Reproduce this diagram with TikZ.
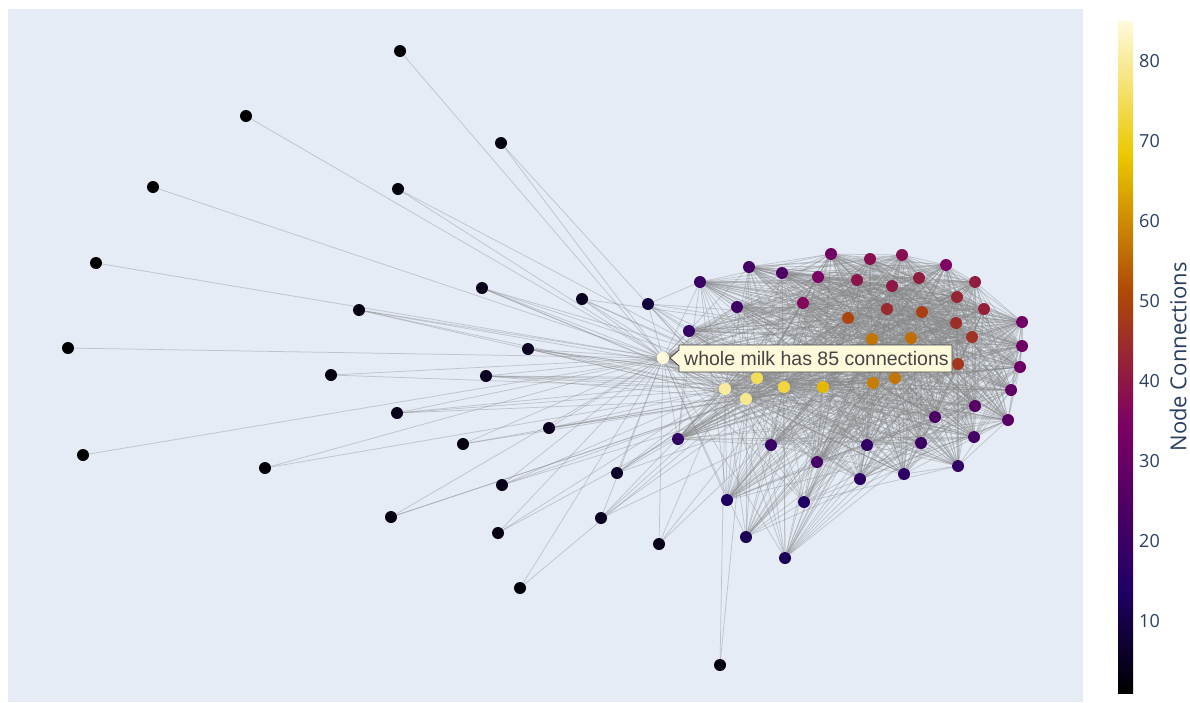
\documentclass[tikz,border=0pt]{standalone}
\usepackage{fontspec}
\setmainfont{Liberation Sans}
\newfontfamily\cbfont{Open Sans}
\pgfdeclarelayer{bg}
\pgfdeclarelayer{edges}
\pgfsetlayers{bg,edges,main}
\definecolor{plotbg}{HTML}{E5ECF6}
\definecolor{edgec}{HTML}{888888}
\definecolor{axisc}{HTML}{2A3F5F}
\definecolor{tipbg}{RGB}{255,250,220}
\definecolor{tipbd}{HTML}{444444}
\definecolor{tiptext}{HTML}{444444}
% Electric-like colour scale
\definecolor{e0}{RGB}{0,0,0}
\definecolor{e1}{RGB}{30,0,100}
\definecolor{e2}{RGB}{125,0,100}
\definecolor{e3}{RGB}{175,75,5}
\definecolor{e4}{RGB}{235,200,0}
\definecolor{e5}{RGB}{255,250,220}
\pgfdeclareverticalshading{electric}{100bp}{color(0bp)=(e0); color(25bp)=(e0); color(32.5bp)=(e1); color(45bp)=(e2); color(55bp)=(e3); color(65bp)=(e4); color(75bp)=(e5); color(100bp)=(e5)}
% colour 'nc' for a node with #1 connections (scale 1..85)
\def\setnodecol#1{%
  \pgfmathsetmacro\tval{(#1-1)/84}%
  \ifdim\tval pt<0.15pt
    \pgfmathsetmacro\pp{100*\tval/0.15}\colorlet{nc}{e1!\pp!e0}%
  \else\ifdim\tval pt<0.4pt
    \pgfmathsetmacro\pp{100*(\tval-0.15)/0.25}\colorlet{nc}{e2!\pp!e1}%
  \else\ifdim\tval pt<0.6pt
    \pgfmathsetmacro\pp{100*(\tval-0.4)/0.2}\colorlet{nc}{e3!\pp!e2}%
  \else\ifdim\tval pt<0.8pt
    \pgfmathsetmacro\pp{100*(\tval-0.6)/0.2}\colorlet{nc}{e4!\pp!e3}%
  \else
    \pgfmathsetmacro\pp{100*(\tval-0.8)/0.2}\colorlet{nc}{e5!\pp!e4}%
  \fi\fi\fi\fi}
\tikzset{
  dot/.style={circle, inner sep=0pt, minimum size=12pt, draw=none},
  edge/.style={draw=edgec, line width=0.75pt, opacity=0.4},
  tick/.style={font=\cbfont\fontsize{18}{18}\selectfont, text=axisc, anchor=west, inner sep=0pt},
}
\begin{document}
\begin{tikzpicture}[x=1pt,y=-1pt]
\useasboundingbox (0,0) rectangle (1190,702);
\begin{pgfonlayer}{bg}
\fill[white] (0,0) rectangle (1190,702);
\fill[plotbg] (8,9) rectangle (1083,702);
\end{pgfonlayer}
% cluster nodes: x/y/connections  (c1 = whole milk)
\foreach \px/\py/\w [count=\i] in {
 663/358/85, 725/389/80, 746/399/79, 757/378/75,
 784/387/73, 823/387/66, 873/383/58, 895/378/57,
 872/339/57, 911/338/56, 848/318/50, 922/312/49,
 887/309/44, 957/297/43, 956/323/45, 972/337/46,
 958/364/47, 857/280/39, 870/259/38, 902/255/38,
 892/286/40, 919/278/41, 975/282/41, 984/309/42,
 818/277/34, 831/254/32, 803/303/36, 946/265/35,
 1022/322/32, 1022/346/32, 1020/367/31, 1011/390/28,
 700/282/20, 749/267/22, 782/273/24, 737/307/21,
 689/331/19, 678/439/18, 771/445/19, 817/462/22,
 727/500/13, 804/502/14, 746/537/12, 785/558/12,
 860/479/17, 867/445/18, 904/474/17, 921/443/20,
 958/466/18, 974/437/22, 935/417/24, 975/406/26,
 1008/420/27}{
  \setnodecol{\w}
  \node[dot, fill=nc] (c\i) at (\px,\py) {};
  \expandafter\xdef\csname w\i\endcsname{\w}
}
% outer nodes: x/y/connections/targets
\foreach \px/\py/\w/\tg [count=\i] in {
 400/51/1/{1}, 246/116/1/{1}, 501/143/2/{1,2}, 153/187/1/{1},
 398/189/2/{1,4}, 96/263/1/{1}, 482/288/4/{1,2,4,6,3},
 582/299/5/{1,2,5,9,4}, 359/310/3/{1,2,3,4}, 648/304/9/{1,2,4,5,6,11,33,3,9},
 68/348/1/{1}, 528/349/5/{1,2,3,4,5,6}, 331/375/2/{1,2},
 486/376/5/{1,2,3,5,7,4}, 397/413/4/{1,2,3,4}, 549/428/5/{1,2,3,5,6},
 83/455/1/{1}, 463/444/3/{1,3,5}, 265/468/2/{1,2},
 617/473/6/{1,2,3,4,7,11}, 502/485/4/{1,2,3,6}, 391/517/3/{1,3,5},
 601/518/5/{1,2,4,5,8}, 498/533/3/{1,2,3}, 659/544/4/{1,2,5,6},
 520/588/2/{1,3}, 720/665/2/{2,3}}{
  \setnodecol{\w}
  \node[dot, fill=nc] (p\i) at (\px,\py) {};
  \begin{pgfonlayer}{edges}
  \foreach \t in \tg {\draw[edge] (p\i) -- (c\t);}
  \end{pgfonlayer}
}
% links inside the cluster
\pgfmathsetseed{11}
\begin{pgfonlayer}{edges}
\foreach \i in {1,...,52}{
  \pgfmathtruncatemacro\ii{\i+1}
  \foreach \j in {\ii,...,53}{
    \pgfmathsetmacro\pr{\csname w\i\endcsname*\csname w\j\endcsname/1000}
    \pgfmathsetmacro\rr{rnd}
    \ifdim\rr pt<\pr pt\relax
      \draw[edge] (c\i) -- (c\j);
    \fi
  }
}
\end{pgfonlayer}
% hover label
\filldraw[fill=tipbg, draw=tipbd, line width=0.8pt] (670,358) -- (679,350) -- (679,345) -- (952,345) -- (952,372) -- (679,372) -- (679,366) -- cycle;
\node[anchor=west, inner sep=0pt, font=\fontsize{19.5}{20}\selectfont, text=tiptext] (tip) at (684,358.5) {whole milk has 85 connections};
% colour bar
\shade[shading=electric] (1118,21) rectangle (1133,693);
\foreach \v in {10,20,...,80}{
  \node[tick] (t\v) at (1139,{701-8*\v}) {\v};
}
\node[rotate=90, inner sep=0pt, font=\cbfont\fontsize{22}{22}\selectfont, text=axisc] (cbtitle) at (1178,357) {Node Connections};
\end{tikzpicture}
\end{document}
